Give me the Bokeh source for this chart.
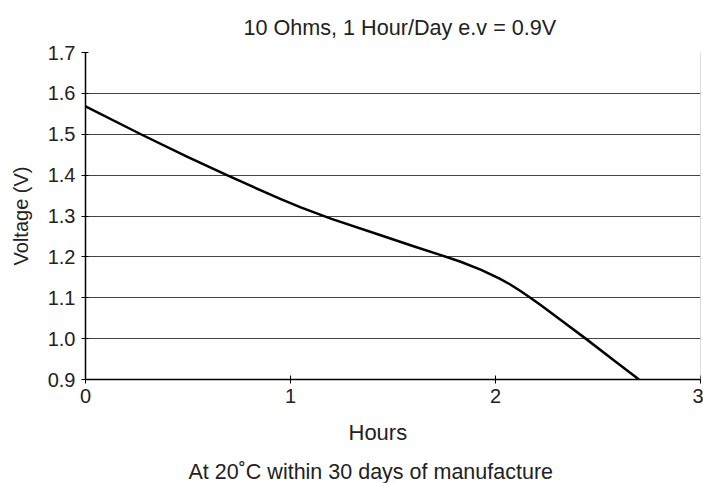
from bokeh.plotting import figure
from bokeh.models import Range1d, FixedTicker, Title, Span
from bokeh.embed import file_html
from bokeh.resources import INLINE

hours = [0, 0.27, 0.5, 0.69, 0.85, 0.95, 1.05, 1.2, 1.44, 1.6, 1.73, 1.83, 1.93,
         2.02, 2.07, 2.12, 2.17, 2.22, 2.32, 2.44, 2.58, 2.7]
voltage = [1.568, 1.5, 1.444, 1.4, 1.364, 1.342, 1.321, 1.293, 1.253, 1.226, 1.205,
           1.188, 1.168, 1.147, 1.133, 1.117, 1.1, 1.082, 1.045, 1.0, 0.946, 0.9]
x_ticks = [0, 1, 2, 3]
y_ticks = [0.9, 1.0, 1.1, 1.2, 1.3, 1.4, 1.5, 1.6, 1.7]
y_tick_labels = {0.9: "0.9", 1.0: "1.0", 1.1: "1.1", 1.2: "1.2", 1.3: "1.3",
                 1.4: "1.4", 1.5: "1.5", 1.6: "1.6", 1.7: "1.7"}

FONT = "Liberation Sans"
TXT = "#222222"

p = figure(width=703, height=483, output_backend="svg", toolbar_location=None,
           x_range=Range1d(0, 3), y_range=Range1d(0.9, 1.7),
           min_border_left=85, min_border_right=3, min_border_top=52,
           min_border_bottom=104)

p.title = Title(text="10 Ohms, 1 Hour/Day e.v = 0.9V", align="left", offset=158,
                text_font=FONT, text_font_size="21.6px", text_font_style="normal",
                text_color=TXT, standoff=25)
p.add_layout(Title(text="Hours", align="left", offset=263,
                   text_font=FONT, text_font_size="22px", text_font_style="normal",
                   text_color=TXT, standoff=25, text_line_height=1.0), "below")
p.add_layout(Title(text="At 20˚C within 30 days of manufacture", align="left", offset=103,
                   text_font=FONT, text_font_size="21.5px", text_font_style="normal",
                   text_color=TXT, standoff=0), "below")

p.outline_line_color = None
p.background_fill_color = "white"
p.border_fill_color = "white"

p.xgrid.visible = False
p.ygrid.ticker = FixedTicker(ticks=y_ticks)
p.ygrid.grid_line_color = "#444444"
p.ygrid.grid_line_width = 1

p.xaxis.ticker = FixedTicker(ticks=x_ticks)
p.yaxis.ticker = FixedTicker(ticks=y_ticks)
p.yaxis.major_label_overrides = y_tick_labels

for ax in (p.xaxis, p.yaxis):
    ax.minor_tick_line_color = None
    ax.axis_line_color = "black"
    ax.axis_line_width = 1.5
    ax.major_tick_line_color = "black"
    ax.major_tick_line_width = 1
    ax.major_label_text_font = FONT
    ax.major_label_text_font_size = "20px"
    ax.major_label_text_color = TXT
    ax.axis_label_text_font = FONT
    ax.axis_label_text_font_size = "20px"
    ax.axis_label_text_font_style = "normal"
    ax.axis_label_text_color = TXT

p.xaxis.major_tick_in = 4
p.xaxis.major_tick_out = 4
p.xaxis.major_label_standoff = 5

p.yaxis.axis_label = "Voltage (V)"
p.yaxis.major_tick_in = 3
p.yaxis.major_tick_out = 4
p.yaxis.major_label_standoff = 6
p.yaxis.axis_label_standoff = 13

p.add_layout(Span(location=3, dimension="height", line_color="#bbbbbb", line_width=1))

p.line(hours, voltage, line_color="black", line_width=2.5, line_join="round")

open("out.html", "w").write(file_html(p, INLINE))
